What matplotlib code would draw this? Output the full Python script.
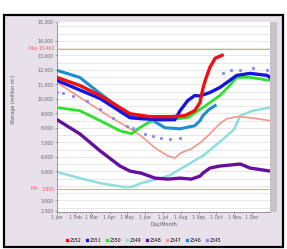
import matplotlib
matplotlib.use("Agg")
import matplotlib.pyplot as plt
from matplotlib.patches import Rectangle
from matplotlib.lines import Line2D
import numpy as np

# ---- data (day of year, storage in million m3) ----
years = ["2552", "2551", "2550", "2549", "2548", "2547", "2546", "2545"]

red_x = [0, 39, 74, 125, 159, 194, 219, 236, 245, 250, 254, 262, 271, 283]
red_y = [11479, 10924, 10229, 8979, 8771, 8771, 8841, 9188, 9743, 10715, 11271, 12174, 12799, 13007]

blue_x = [0, 74, 125, 144, 176, 202, 211, 224, 236, 245, 262, 279, 296, 308, 331, 360, 365]
blue_y = [11271, 10021, 8702, 8632, 8563, 8563, 9188, 9882, 10229, 10200, 10438, 10785, 11271, 11618, 11757, 11618, 11479]

green_x = [0, 39, 74, 108, 128, 139, 156, 173, 190, 207, 224, 242, 250, 262, 279, 296, 308, 331, 365]
green_y = [9396, 9188, 8493, 7799, 7591, 7938, 8355, 8632, 8702, 8632, 8702, 9188, 9396, 9743, 10229, 10924, 11479, 11479, 11271]

cyan_x = [0, 39, 74, 117, 130, 144, 178, 194, 223, 252, 279, 303, 314, 336, 365]
cyan_y = [4952, 4535, 4188, 3910, 3950, 4188, 4535, 4743, 5438, 6132, 7035, 7870, 8841, 9188, 9396]

purple_x = [0, 39, 74, 108, 125, 144, 168, 190, 211, 230, 245, 250, 262, 279, 314, 331, 365]
purple_y = [8563, 7591, 6410, 5368, 5021, 4882, 4535, 4466, 4535, 4466, 4674, 4882, 5229, 5368, 5507, 5229, 5021]

salmon_x = [0, 53, 82, 111, 123, 144, 168, 190, 202, 212, 230, 245, 262, 279, 291, 308, 331, 365]
salmon_y = [11132, 9743, 8979, 8285, 8000, 7452, 6618, 6063, 5924, 6271, 6549, 6966, 7591, 8285, 8632, 8771, 8702, 8493]

steel_x = [0, 39, 74, 125, 159, 185, 211, 236, 245, 250, 260, 271]
steel_y = [11965, 11479, 10368, 8841, 8632, 8007, 7938, 8146, 8493, 8841, 9250, 9535]

dot_x = [0, 10, 27, 51, 74, 96, 120, 130, 151, 165, 178, 194, 211, 284, 298, 314, 336, 360]
dot_y = [10500, 10438, 10229, 9882, 9327, 8702, 8146, 8007, 7591, 7452, 7313, 7243, 7313, 11757, 11965, 11965, 12105, 11965]

max_level = 13462
min_level = 3800

month_pos = [0, 31, 59, 90, 120, 151, 181, 212, 243, 273, 304, 334]
month_lbl = ["1 Jan", "1 Feb", "1 Mar", "1 Apr", "1 May", "1 Jun",
             "1 Jul", "1 Aug", "1 Sep", "1 Oct", "1 Nov", "1 Dec"]
ytick_vals = [2300, 3000, 5000, 6000, 7000, 8000, 9000, 10000, 11000, 12000, 13000, 14000, 15300]

W, H = 287, 249
fig = plt.figure(figsize=(W / 100, H / 100), dpi=100)
fig.patch.set_facecolor("white")

# outer frame
fig.patches.append(Rectangle((4 / W, 2 / H), 279 / W, 232 / H, transform=fig.transFigure,
                             facecolor="#e8e0ea", edgecolor="black", lw=1.6, zorder=0))
# plot shadow
fig.patches.append(Rectangle((60 / W, 37 / H), 217 / W, 190 / H, transform=fig.transFigure,
                             facecolor="#c9c2cb", edgecolor="none", zorder=0.5))

ax = fig.add_axes([57 / W, 37 / H, 213 / W, 190 / H])
ax.set_zorder(3)
ax.set_facecolor("white")
ax.set_xlim(0, 365)
ax.set_ylim(2200, 15300)

for v in range(2500, 15300, 500):
    ax.axhline(v, color="#e4e4e4", lw=0.6, zorder=0)
ax.axhline(max_level, color="#f59a9a", lw=0.8, zorder=1)
ax.axhline(min_level, color="#f59a9a", lw=0.8, zorder=1)

ax.plot(cyan_x, cyan_y, color="#8ddede", lw=1.8, zorder=2)
ax.plot(purple_x, purple_y, color="#650f9a", lw=2.4, zorder=3)
ax.plot(salmon_x, salmon_y, color="#f4958a", lw=1.2, zorder=3)
ax.plot(steel_x, steel_y, color="#1e8cd0", lw=2.2, zorder=3)
ax.plot(green_x, green_y, color="#2ee02e", lw=2.0, zorder=4)
dx = np.array(dot_x, dtype=float)
dy = np.array(dot_y, dtype=float)
ax.plot(dx[:13], dy[:13], ls="none", marker="o", ms=1.3, color="#8a8af2", zorder=4)
ax.plot(dx[13:], dy[13:], ls="none", marker="o", ms=1.3, color="#8a8af2", zorder=4)
ax.plot(blue_x, blue_y, color="#1515e0", lw=2.4, zorder=5)
ax.plot(red_x, red_y, color="#f01010", lw=2.4, zorder=6)

ax.set_xticks(month_pos)
ax.set_xticklabels(month_lbl, fontsize=3.3, color="#555555")
ax.set_yticks(ytick_vals)
ax.set_yticklabels([f"{v:,}" for v in ytick_vals], fontsize=3.3, color="#555555")
ax.tick_params(length=1.5, width=0.4, pad=1, colors="#666666")
for s in ["top", "right"]:
    ax.spines[s].set_visible(False)
for s in ["left", "bottom"]:
    ax.spines[s].set_color("#888888")
    ax.spines[s].set_linewidth(0.6)

ytr = ax.get_yaxis_transform()
ax.text(-0.012, max_level, f"{max_level:,}", transform=ytr,
        fontsize=3.3, color="#f06060", va="center", ha="right")
ax.text(-0.09, max_level, "Max", transform=ytr,
        fontsize=3.3, color="#f06060", va="center", ha="right")
ax.text(-0.012, min_level, f"{min_level:,}", transform=ytr,
        fontsize=3.3, color="#f06060", va="center", ha="right")
ax.text(-0.085, min_level, "Min", transform=ytr,
        fontsize=3.3, color="#f06060", va="center", ha="right")

ax.set_xlabel("Day/Month", fontsize=3.5, color="#555555", labelpad=1)
fig.text(14 / W, 0.6, "Storage (million m³)", rotation=90, fontsize=3.5,
         color="#555555", va="center", ha="center")

colors = ["#f01010", "#1515e0", "#2ee02e", "#8ddede", "#650f9a", "#f4958a", "#1e8cd0", "#8a8af2"]
handles = [Line2D([], [], ls="none", marker="s", ms=2, color=c) for c in colors]
fig.legend(handles, years, loc="center", bbox_to_anchor=(0.5, 9 / H), ncol=8,
           fontsize=3.3, frameon=False, handlelength=0.6, handletextpad=0.3,
           columnspacing=0.9, borderpad=0)

fig.savefig("out.png", dpi=100, facecolor=fig.get_facecolor())
